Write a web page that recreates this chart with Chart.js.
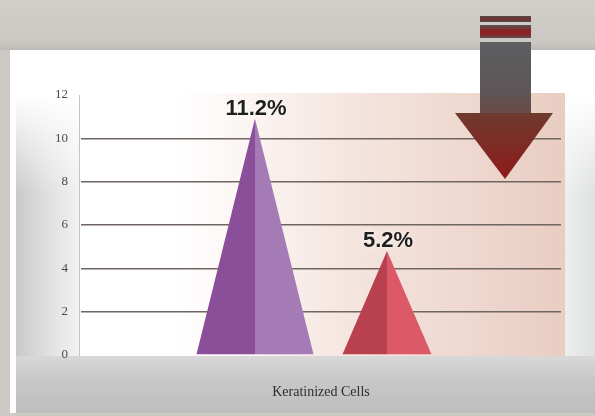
<!DOCTYPE html>
<html>
<head>
<meta charset="utf-8">
<script src="https://cdn.jsdelivr.net/npm/chart.js@4/dist/chart.umd.min.js"></script>
<style>
  html, body { margin: 0; padding: 0; }
  body { width: 595px; height: 416px; overflow: hidden; background: #cdc9c4; position: relative; }
  .header { position: absolute; left: 0; top: 0; width: 595px; height: 50px;
    background: linear-gradient(to bottom, #d2cec9 0%, #cbc7c2 85%, #bdb9b4 100%); }
  .panel { position: absolute; left: 10px; top: 50px; width: 585px; height: 363px;
    background:
      linear-gradient(to bottom, #ffffff 0%, #ffffff 12%, rgba(255,255,255,0) 40%),
      linear-gradient(to right, #c9c9c9 0%, #e2e2e2 6%, #f5f5f5 12%, #fafafa 90%, #dfe1e1 100%);
    border-left: 6px solid #fff; border-bottom: 2px solid #fff; box-sizing: border-box; }
  .bottom { position: absolute; left: 16px; top: 356px; width: 579px; height: 57px;
    background: linear-gradient(to bottom, #d8d8d8 0%, #c8c8c8 40%, #bebebe 100%); }
  .wrap { position: absolute; left: 0; top: 0; width: 595px; height: 416px; }
</style>
</head>
<body>
<div class="header"></div>
<div class="panel"></div>
<div class="bottom"></div>
<div class="wrap"><canvas id="chart" width="595" height="416"></canvas></div>
<script>
// values (peak heights) and the printed annotations
const categories = ['Keratinized Cells'];
const firstValues = [10.9];
const secondValues = [4.8];
const valueLabels = ['11.2%', '5.2%'];
const yTicks = [0, 2, 4, 6, 8, 10, 12];

const seriesColors = [
  { left: '#8a4f98', right: '#a57bb5' },
  { left: '#b8404f', right: '#dc5a68' }
];

// plot background: white fading into a soft pink on the right
const plotBackground = {
  id: 'plotBackground',
  beforeDraw(chart) {
    const { ctx, chartArea: a } = chart;
    const g = ctx.createLinearGradient(a.left, 0, a.right, 0);
    g.addColorStop(0, '#ffffff');
    g.addColorStop(0.2, '#ffffff');
    g.addColorStop(0.55, '#f5e6e0');
    g.addColorStop(1, '#e9cdc2');
    ctx.save();
    ctx.fillStyle = g;
    ctx.fillRect(a.left - 1, a.top - 2, a.right - a.left + 5, a.bottom - a.top + 3);
    ctx.strokeStyle = '#c4c4c4';
    ctx.lineWidth = 1;
    ctx.beginPath();
    ctx.moveTo(a.left - 1.5, a.top);
    ctx.lineTo(a.left - 1.5, a.bottom + 1);
    ctx.stroke();
    ctx.restore();
  }
};

// each bar is drawn as a two-tone triangle (pyramid look)
const triangles = {
  id: 'triangles',
  afterDatasetsDraw(chart) {
    const ctx = chart.ctx;
    chart.data.datasets.forEach((ds, di) => {
      const meta = chart.getDatasetMeta(di);
      meta.data.forEach(bar => {
        const half = bar.width / 2;
        const c = seriesColors[di];
        ctx.save();
        ctx.fillStyle = c.left;
        ctx.beginPath();
        ctx.moveTo(bar.x - half, bar.base);
        ctx.lineTo(bar.x, bar.y);
        ctx.lineTo(bar.x, bar.base);
        ctx.closePath();
        ctx.fill();
        ctx.fillStyle = c.right;
        ctx.beginPath();
        ctx.moveTo(bar.x, bar.base);
        ctx.lineTo(bar.x, bar.y);
        ctx.lineTo(bar.x + half, bar.base);
        ctx.closePath();
        ctx.fill();

        ctx.font = 'bold 22px "Liberation Sans", Arial, sans-serif';
        ctx.textAlign = 'center';
        ctx.textBaseline = 'alphabetic';
        ctx.shadowColor = 'rgba(255,255,255,0.95)';
        ctx.shadowBlur = 4;
        ctx.fillStyle = '#1e1e1e';
        ctx.fillText(valueLabels[di], bar.x + 1, bar.y - 4);
        ctx.restore();
      });
    });
  }
};

// the big "decrease" arrow in the top right corner
const downArrow = {
  id: 'downArrow',
  afterDraw(chart) {
    const ctx = chart.ctx;
    ctx.save();
    // two stripes above the shaft
    let g = ctx.createLinearGradient(0, 16, 0, 22);
    g.addColorStop(0, '#4d4a4a'); g.addColorStop(0.5, '#7a2e30'); g.addColorStop(1, '#4d4a4a');
    ctx.fillStyle = g;
    ctx.fillRect(480, 16, 51, 6);
    g = ctx.createLinearGradient(0, 25, 0, 38);
    g.addColorStop(0, '#555454'); g.addColorStop(0.4, '#8a2426'); g.addColorStop(0.7, '#8a2426'); g.addColorStop(1, '#5a5050');
    ctx.fillStyle = g;
    ctx.fillRect(480, 25, 51, 13);
    // shaft
    g = ctx.createLinearGradient(0, 42, 0, 150);
    g.addColorStop(0, '#5c5e60');
    g.addColorStop(0.45, '#5e5658');
    g.addColorStop(1, '#7c3a2e');
    ctx.fillStyle = g;
    ctx.fillRect(480, 42, 51, 75);
    // head
    g = ctx.createLinearGradient(0, 113, 0, 180);
    g.addColorStop(0, '#6f3a2e');
    g.addColorStop(1, '#8e1a1c');
    ctx.fillStyle = g;
    ctx.beginPath();
    ctx.moveTo(455, 113);
    ctx.lineTo(553, 113);
    ctx.lineTo(505, 179);
    ctx.closePath();
    ctx.fill();
    ctx.restore();
  }
};

new Chart(document.getElementById('chart'), {
  type: 'bar',
  data: {
    labels: categories,
    datasets: [
      { data: firstValues, backgroundColor: 'rgba(0,0,0,0)', barPercentage: 0.886, categoryPercentage: 0.55 },
      { data: secondValues, backgroundColor: 'rgba(0,0,0,0)', barPercentage: 0.674, categoryPercentage: 0.55 }
    ]
  },
  options: {
    responsive: false,
    animation: false,
    events: [],
    layout: { padding: { top: 95, right: 34, left: 0, bottom: 0 } },
    plugins: { legend: { display: false }, tooltip: { enabled: false } },
    scales: {
      x: {
        grid: { display: false },
        border: { display: false },
        ticks: { color: '#2e2e2e', padding: 21, font: { family: '"Liberation Serif", "Times New Roman", serif', size: 14 } },
        afterFit(scale) { scale.height = 61; }
      },
      y: {
        min: yTicks[0],
        max: yTicks[yTicks.length - 1],
        afterBuildTicks(scale) { scale.ticks = yTicks.map(v => ({ value: v })); },
        grid: {
          drawTicks: false,
          lineWidth: 1.5,
          color: ctx => (ctx.tick && (ctx.tick.value === 0 || ctx.tick.value === 12)) ? 'rgba(0,0,0,0)' : '#6f6561'
        },
        border: { display: false },
        ticks: { color: '#4a4a4a', padding: 13, font: { family: '"Liberation Serif", "Times New Roman", serif', size: 13 } },
        afterFit(scale) { scale.width = 81; }
      }
    }
  },
  plugins: [plotBackground, triangles, downArrow]
});
</script>
</body>
</html>
